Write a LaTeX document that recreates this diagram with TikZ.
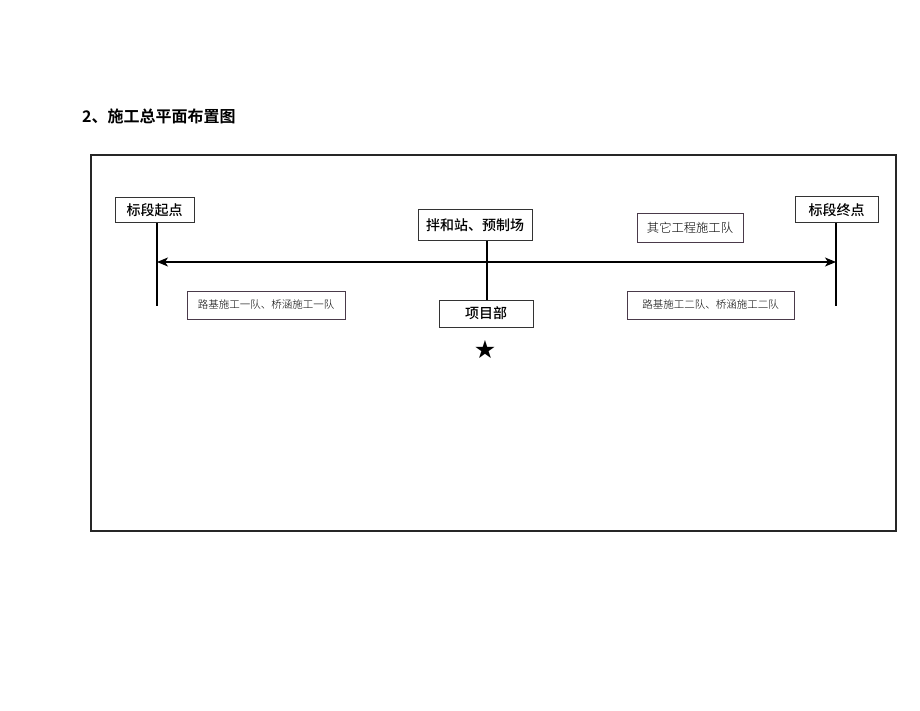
\documentclass[tikz,border=0pt]{standalone}
\usepackage{fontspec}
\newfontfamily\cjk{Noto Sans CJK SC Medium}
\newfontfamily\cjkbold{Noto Sans CJK SC Bold}
\newfontfamily\cjklight{Noto Sans CJK SC Light}
\newfontfamily\sym{DejaVu Sans}
\usetikzlibrary{arrows.meta}
\definecolor{boxline}{HTML}{4A3A4A}
\tikzset{
  bigbox/.style={draw=black!80, line width=1pt, fill=white, inner sep=0pt, font=\cjk\fontsize{14}{14}\selectfont},
  smallbox/.style={draw=boxline, line width=0.8pt, fill=white, inner sep=0pt, font=\cjklight\fontsize{10.5}{11}\selectfont},
  conn/.style={line width=1.3pt, black},
}
\begin{document}
\begin{tikzpicture}[x=1pt,y=-1pt]
\useasboundingbox (0,0) rectangle (920,711);
% title
\node[anchor=west, font=\cjkbold\fontsize{16}{16}\selectfont, inner sep=0pt] (title) at (82,116) {2、施工总平面布置图};
% outer frame
\draw[line width=2.6pt, black!85] (91,155) rectangle (896,531);
% boxes
\node[bigbox, minimum width=79pt, minimum height=25pt] (start) at (154.5,210.5) {标段起点};
\node[bigbox, minimum width=83pt, minimum height=26pt] (end) at (836.5,210) {标段终点};
\node[bigbox, minimum width=114pt, minimum height=31pt] (mix) at (475,225.5) {拌和站、预制场};
\node[bigbox, minimum width=94pt, minimum height=27pt] (pm) at (486,313.5) {项目部};
\node[smallbox, minimum width=106pt, minimum height=29pt, font=\cjklight\fontsize{12.3}{13}\selectfont] (other) at (690,227.5) {其它工程施工队};
\node[smallbox, minimum width=158pt, minimum height=28pt] (t1) at (266,305) {路基施工一队、桥涵施工一队};
\node[smallbox, minimum width=167pt, minimum height=28pt] (t2) at (710.5,305) {路基施工二队、桥涵施工二队};
% star
\node[font=\sym\fontsize{25}{25}\selectfont, inner sep=0pt] (star) at (485,350) {★};
% coordinates
\coordinate (sb) at (157,306);
\coordinate (eb) at (836,306);
\coordinate (sl) at (157,262);
\coordinate (el) at (836,262);
\coordinate (mb) at (487,241);
% connectors
\draw[conn] (157,223) -- (sb);
\draw[conn] (836,223) -- (eb);
\draw[conn] (mb) -- (pm.north -| mb);
\draw[conn, {Stealth[length=11pt,width=9pt,inset=3pt]}-{Stealth[length=11pt,width=9pt,inset=3pt]}] (sl) -- (el);
\end{tikzpicture}
\end{document}
